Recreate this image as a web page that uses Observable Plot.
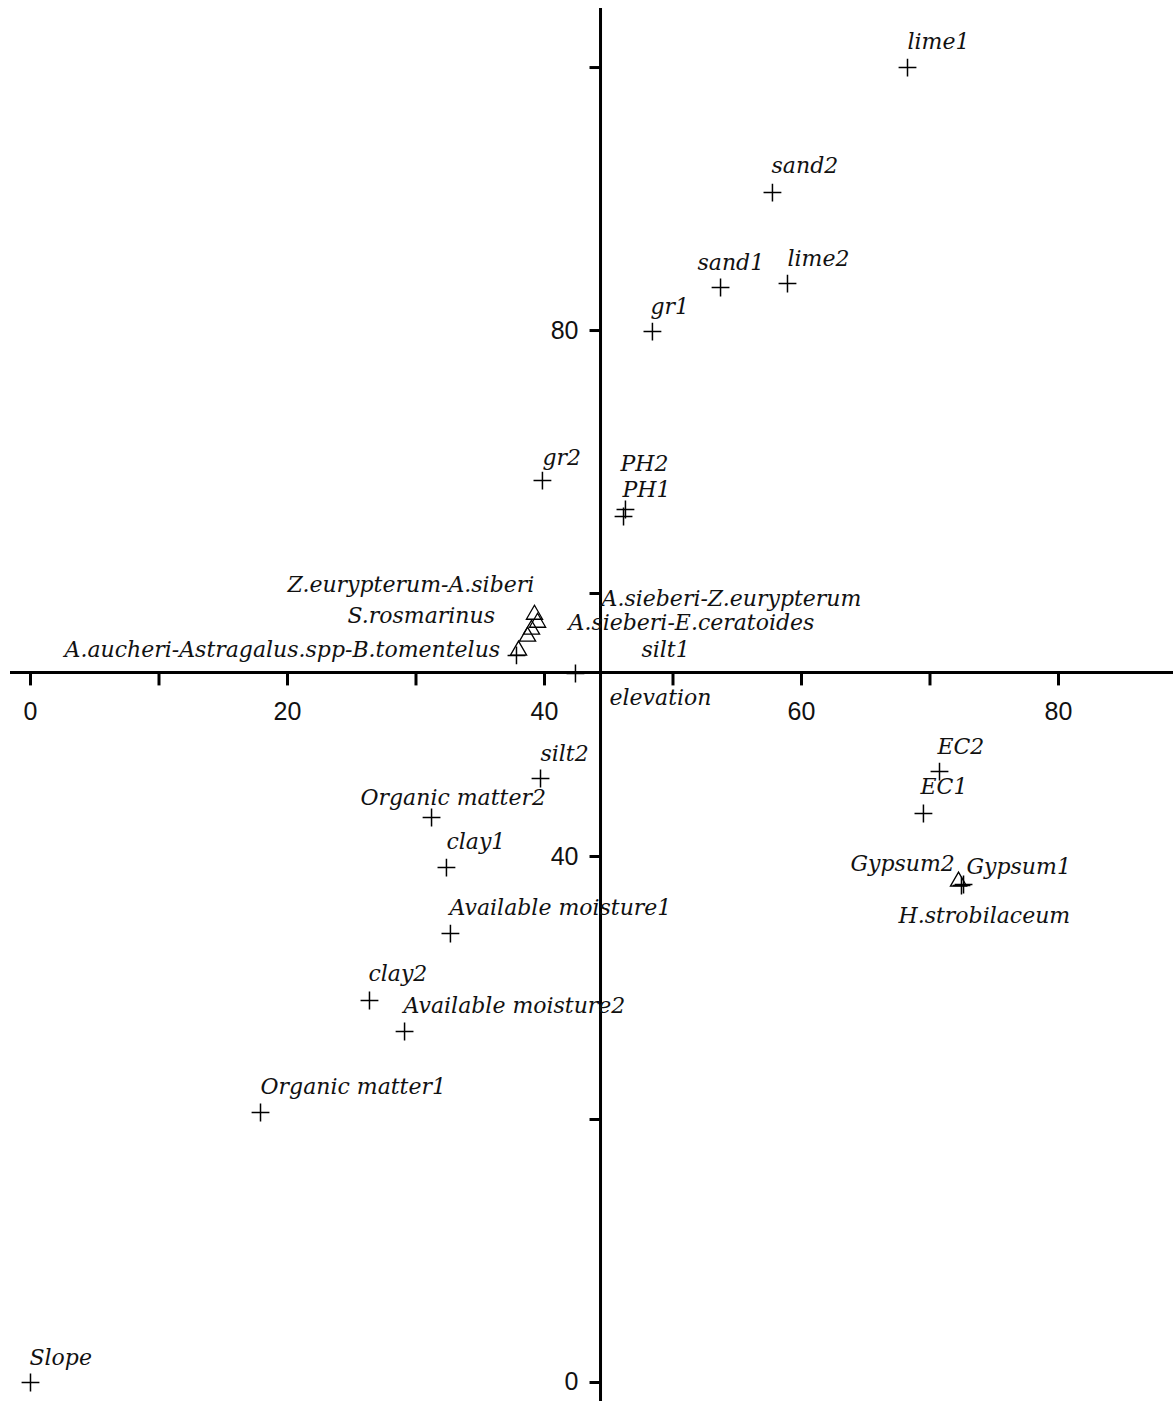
<!DOCTYPE html>
<html><head><meta charset="utf-8">
<script src="https://cdn.jsdelivr.net/npm/d3@7"></script>
<script src="https://cdn.jsdelivr.net/npm/@observablehq/plot@0.6"></script>
<style>html,body{margin:0;padding:0;background:#fff;overflow:hidden} svg{display:block}</style>
</head><body><div id="chart"></div>
<script>
// Environmental variables (plus markers)
const envNames = ["lime1","sand2","sand1","lime2","gr1","gr2","PH2","PH1","silt1","elevation","silt2","Organic matter2","clay1","Available moisture1","clay2","Available moisture2","Organic matter1","Slope","EC2","EC1","Gypsum1","Gypsum2"];
const envX = [68.25,57.74,53.70,58.91,48.40,39.84,46.30,46.15,37.82,42.41,39.69,31.21,32.37,32.68,26.38,29.11,17.90,0.00,70.74,69.49,72.61,72.45];
const envY = [100.0,90.49,83.27,83.57,79.92,68.59,66.39,65.86,55.29,53.92,45.93,42.97,39.16,34.14,29.05,26.69,20.53,0.00,46.46,43.27,37.87,37.79];
const envLabelX = [68.25,57.67,51.91,58.91,48.25,39.84,45.91,46.07,47.55,45.06,39.69,25.68,32.37,32.61,26.30,29.03,17.90,-0.08,70.58,69.26,72.84,63.81];
const envLabelY = [101.98,92.55,85.17,85.48,81.82,70.34,69.89,67.87,55.68,52.09,47.83,44.49,41.14,36.12,31.10,28.67,22.51,1.90,48.37,45.32,39.24,39.47];

// Species (triangle markers)
const spNames = ["Z.eurypterum-A.siberi","A.sieberi-Z.eurypterum","S.rosmarinus","A.sieberi-E.ceratoides","A.aucheri-Astragalus.spp-B.tomentelus","H.strobilaceum"];
const spX = [39.22,39.46,38.99,38.68,37.98,72.22];
const spY = [58.40,57.79,57.26,56.73,55.67,38.10];
const spLabelX = [20.0,44.44,24.67,41.87,2.65,67.55];
const spLabelY = [60.68,59.60,58.33,57.76,55.74,35.51];

// Axes
const xTicks = [0,10,20,30,40,50,60,70,80];
const xTickLabels = [0,20,40,60,80];
const yTicks = [0,20,40,60,80,100];
const yTickLabels = [0,40,80];
const xCross = 44.36;  // where the vertical axis crosses
const yCross = 54.0;   // where the horizontal axis crosses

const env = envNames.map((n,i)=>({name:n, x:envX[i], y:envY[i], lx:envLabelX[i], ly:envLabelY[i]}));
const sp = spNames.map((n,i)=>({name:n, x:spX[i], y:spY[i], lx:spLabelX[i], ly:spLabelY[i]}));

const tickDown = {draw(ctx){ ctx.moveTo(0,0); ctx.lineTo(0,13); }};
const tickLeft = {draw(ctx){ ctx.moveTo(0,0); ctx.lineTo(-11,0); }};

const labelFont = "DejaVu Serif, serif";
const numFont = "Liberation Sans, Arial, sans-serif";

const chart = Plot.plot({
  width: 1173, height: 1401,
  marginLeft: 10, marginRight: 0, marginTop: 8, marginBottom: 0,
  x: {domain: [-1.556, 88.95], axis: null},
  y: {domain: [-1.445, 104.49], axis: null},
  style: {background: "white"},
  marks: [
    Plot.ruleY([yCross], {stroke: "black", strokeWidth: 3}),
    Plot.ruleX([xCross], {stroke: "black", strokeWidth: 3}),
    Plot.dot(xTicks, {x: d=>d, y: yCross, symbol: tickDown, fill: "none", stroke: "black", strokeWidth: 3}),
    Plot.dot(yTicks, {x: xCross, y: d=>d, symbol: tickLeft, fill: "none", stroke: "black", strokeWidth: 3}),
    Plot.text(xTickLabels, {x: d=>d, y: yCross, text: d=>String(d), dy: 40, fontSize: 25, fontFamily: numFont, fill: "#111"}),
    Plot.text(yTickLabels, {x: xCross, y: d=>d, text: d=>String(d), dx: -22, textAnchor: "end", fontSize: 25, fontFamily: numFont, fill: "#111"}),
    Plot.dot(env, {x: "x", y: "y", symbol: "plus", r: 5.8, stroke: "black", strokeWidth: 1.5}),
    Plot.dot(sp, {x: "x", y: "y", symbol: "triangle", r: 6, stroke: "black", strokeWidth: 1.3, fill: "none"}),
    Plot.text(env, {x: "lx", y: "ly", text: "name", textAnchor: "start", lineAnchor: "middle", fontSize: 22, fontStyle: "italic", fontFamily: labelFont, fill: "#111"}),
    Plot.text(sp, {x: "lx", y: "ly", text: "name", textAnchor: "start", lineAnchor: "middle", fontSize: 22, fontStyle: "italic", fontFamily: labelFont, fill: "#111"})
  ]
});
document.getElementById("chart").appendChild(chart);
</script>
</body></html>
